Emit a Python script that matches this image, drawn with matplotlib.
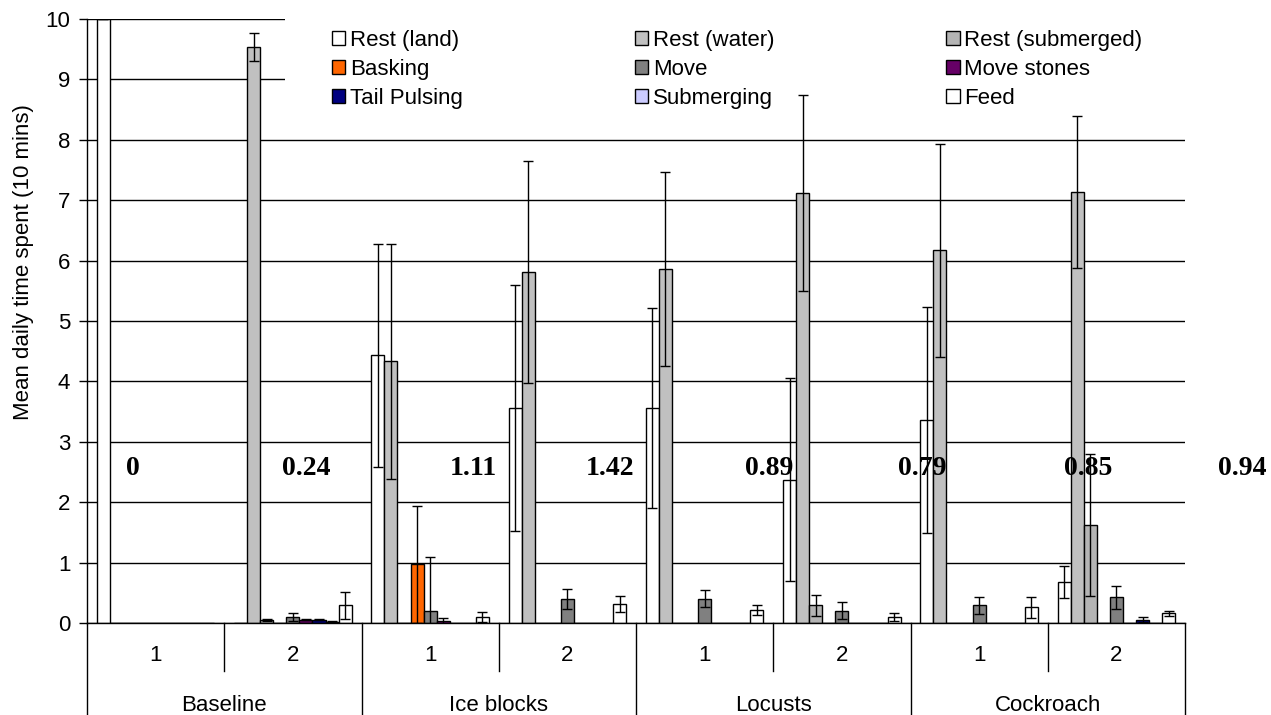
import numpy as np
import matplotlib
matplotlib.use("Agg")
import matplotlib.pyplot as plt
from matplotlib.patches import Rectangle

plt.rcParams['font.family'] = ['Liberation Sans', 'DejaVu Sans']

# categories: trial within each treatment
groups = ["Baseline", "Ice blocks", "Locusts", "Cockroach"]
trials = ["1", "2"]

series = ["Rest (land)", "Rest (water)", "Rest (submerged)", "Basking", "Move",
          "Move stones", "Tail Pulsing", "Submerging", "Feed"]
colors = ["#FFFFFF", "#C0C0C0", "#B4B4B4", "#FF6600", "#808080",
          "#660066", "#000080", "#CCCCFF", "#FFFFFF"]

# means (B1, B2, I1, I2, L1, L2, C1, C2)
rest_land = [10, 0, 4.43, 3.56, 3.56, 2.37, 3.36, 0.68]
rest_water = [0, 9.53, 4.33, 5.81, 5.86, 7.12, 6.17, 7.13]
rest_sub = [0, 0.05, 0, 0, 0, 0.29, 0, 1.62]
basking = [0, 0, 0.97, 0, 0, 0, 0, 0]
move = [0, 0.10, 0.20, 0.40, 0.40, 0.20, 0.29, 0.43]
move_stones = [0, 0.055, 0.04, 0, 0, 0, 0, 0]
tail_pulsing = [0, 0.055, 0, 0, 0, 0, 0, 0.055]
submerging = [0, 0.02, 0, 0, 0, 0, 0, 0]
feed = [0, 0.29, 0.10, 0.31, 0.22, 0.10, 0.26, 0.16]

# error (+/-)
rest_land_err = [0, 0, 1.85, 2.03, 1.66, 1.68, 1.87, 0.27]
rest_water_err = [0, 0.23, 1.95, 1.84, 1.60, 1.63, 1.76, 1.26]
rest_sub_err = [0, 0.02, 0, 0, 0, 0.18, 0, 1.18]
basking_err = [0, 0, 0.97, 0, 0, 0, 0, 0]
move_err = [0, 0.06, 0.90, 0.17, 0.14, 0.14, 0.14, 0.19]
move_stones_err = [0, 0.01, 0.05, 0, 0, 0, 0, 0]
tail_pulsing_err = [0, 0.01, 0, 0, 0, 0, 0, 0.04]
submerging_err = [0, 0.01, 0, 0, 0, 0, 0, 0]
feed_err = [0, 0.22, 0.08, 0.13, 0.08, 0.07, 0.17, 0.04]

values = [rest_land, rest_water, rest_sub, basking, move, move_stones,
          tail_pulsing, submerging, feed]
errors = [rest_land_err, rest_water_err, rest_sub_err, basking_err, move_err,
          move_stones_err, tail_pulsing_err, submerging_err, feed_err]

# bold numbers printed across the plot
notes = ["0", "0.24", "1.11", "1.42", "0.89", "0.79", "0.85", "0.94"]
note_x = [-0.165, 1.096, 2.312, 3.311, 4.469, 5.584, 6.793, 7.915]
note_y = 2.55

W, H = 1271, 715
fig = plt.figure(figsize=(W / 100, H / 100), dpi=100)
ax = fig.add_axes([87 / W, 92 / H, 1098 / W, 604 / H])

n = len(series)
w = 1 / (n + 1.5)          # Excel gap width 150%
x = np.arange(len(groups) * len(trials))

ax.set_axisbelow(True)
ax.yaxis.grid(True, color="black", lw=1, zorder=0)
# white legend backdrop hides the top gridlines
ax.add_patch(Rectangle((0.18, 0.835), 0.82, 0.2, transform=ax.transAxes,
                       facecolor="white", edgecolor="none", zorder=1, clip_on=False))

handles = []
for j, (name, vals, errs, c) in enumerate(zip(series, values, errors, colors)):
    xs = x + (j - (n - 1) / 2) * w
    b = ax.bar(xs, vals, w, color=c, edgecolor="black", lw=1, label=name, zorder=2)
    handles.append(b)
    v = np.array(vals); e = np.array(errs)
    m = v > 0
    ax.errorbar(xs[m], v[m], yerr=e[m], fmt="none", ecolor="black", elinewidth=1,
                capsize=3.5, capthick=1, zorder=3, clip_on=True)

ax.set_xlim(-0.5, len(x) - 0.5)
ax.set_ylim(0, 10)
ax.set_yticks(range(11))
ax.tick_params(axis="y", direction="out", length=6, width=1, labelsize=16, pad=6)
ax.set_xticks([])
for s in ("top", "right"):
    ax.spines[s].set_visible(False)
ax.spines["left"].set_linewidth(1)
ax.spines["bottom"].set_linewidth(1)

fig.text(24 / W, 1 - 262 / H, "Mean daily time spent (10 mins)", rotation=90,
         ha="center", va="center", fontsize=16)

# two-level category axis
tr = ax.get_xaxis_transform()
for i in range(len(x)):
    ax.text(x[i], -0.053, trials[i % 2], transform=tr, ha="center", va="center", fontsize=16)
for g, name in enumerate(groups):
    ax.text(2 * g + 0.5, -0.136, name, transform=tr, ha="center", va="center", fontsize=16)
for g in range(len(groups)):
    ax.plot([2 * g + 0.5] * 2, [0, -0.08], transform=tr, color="black", lw=1, clip_on=False)
for g in range(len(groups) + 1):
    ax.plot([2 * g - 0.5] * 2, [0, -0.155], transform=tr, color="black", lw=1, clip_on=False)

for t, nx in zip(notes, note_x):
    ax.text(nx, note_y, t, ha="center", va="center", fontsize=20, fontweight="bold",
            family=["Liberation Serif", "DejaVu Serif"], zorder=4, clip_on=False)

order = [0, 3, 6, 1, 4, 7, 2, 5, 8]
fig.legend([handles[k] for k in order], [series[k] for k in order], ncol=3,
           loc="upper left", bbox_to_anchor=(332 / W, 1 - 30 / H), frameon=False,
           fontsize=16, handlelength=0.6, handleheight=0.6, handletextpad=0.2,
           columnspacing=7.75, labelspacing=0.35, borderpad=0, borderaxespad=0)

fig.savefig("out.png", dpi=100)
